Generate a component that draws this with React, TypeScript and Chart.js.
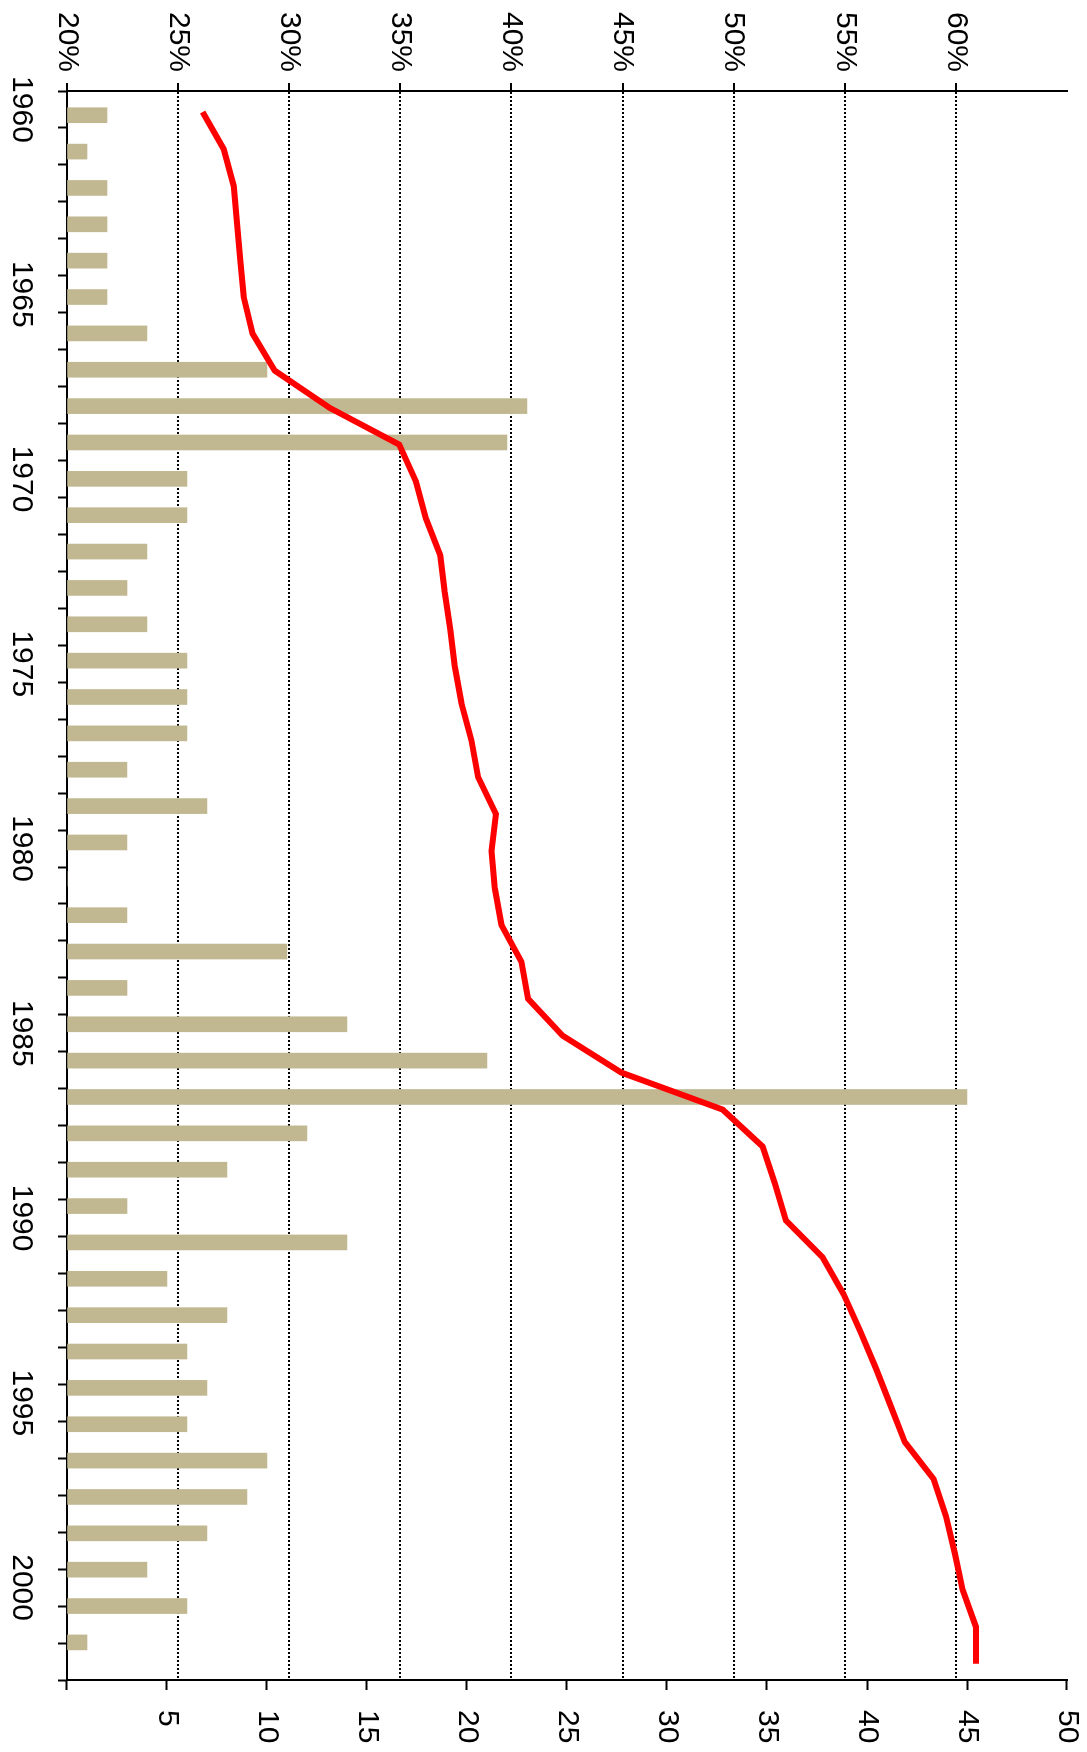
import { useEffect, useRef } from 'react';
import { Chart, registerables } from 'chart.js';

Chart.register(...registerables);

// Years on the category axis (1960–2002)
const YEARS = [
  1960, 1961, 1962, 1963, 1964, 1965, 1966, 1967, 1968, 1969,
  1970, 1971, 1972, 1973, 1974, 1975, 1976, 1977, 1978, 1979,
  1980, 1981, 1982, 1983, 1984, 1985, 1986, 1987, 1988, 1989,
  1990, 1991, 1992, 1993, 1994, 1995, 1996, 1997, 1998, 1999,
  2000, 2001, 2002,
];

// Bar series: yearly counts (right axis, 0–50)
const COUNTS = [
  2, 1, 2, 2, 2, 2, 4, 10, 23, 22,
  6, 6, 4, 3, 4, 6, 6, 6, 3, 7,
  3, 0, 3, 11, 3, 14, 21, 45, 12, 8,
  3, 14, 5, 8, 6, 7, 6, 10, 9, 7,
  4, 6, 1,
];

// Line series: share in percent (left axis, 20%–65%)
const SHARE = [
  26.1, 27.05, 27.5, 27.65, 27.8, 27.95, 28.35, 29.35, 31.8, 34.95,
  35.7, 36.15, 36.8, 37.0, 37.25, 37.45, 37.75, 38.2, 38.5, 39.3,
  39.1, 39.25, 39.55, 40.45, 40.75, 42.3, 44.95, 49.5, 51.3, 51.85,
  52.35, 54.0, 54.95, 55.7, 56.4, 57.05, 57.7, 59.0, 59.55, 59.95,
  60.3, 60.9, 60.9,
];

// Axis ranges / tick settings
const PCT_MIN = 20;
const PCT_MAX = 65;
const PCT_STEP = 5;
const COUNT_MIN = 0;
const COUNT_MAX = 50;
const COUNT_STEP = 5;
const YEAR_LABEL_EVERY = 5;
// in the original, bars and line each sit on their own (invisible) year scale
const BAR_AXIS_MIN = 1959.54;
const BAR_AXIS_MAX = 2003.24;
const LINE_AXIS_MIN = 1959.43;
const LINE_AXIS_MAX = 2002.44;

const W = 1752;
const H = 1087;
const FONT = { family: '"Liberation Sans", Arial, Helvetica, sans-serif', size: 30 };
const CLEAR = 'rgba(0,0,0,0)';

const noPad = (s: any) => {
  s.paddingTop = 0;
  s.paddingBottom = 0;
  s.paddingLeft = 0;
  s.paddingRight = 0;
};

const hiddenYearScale = (min: number, max: number) => ({
  type: 'linear',
  position: 'bottom',
  display: true,
  offset: false,
  min,
  max,
  ticks: { display: false },
  grid: { display: false, drawTicks: false },
  border: { display: false },
  afterFit: (s: any) => {
    noPad(s);
    s.height = 0;
  },
});

export default function App() {
  const ref = useRef<HTMLCanvasElement | null>(null);

  useEffect(() => {
    if (!ref.current) return;
    const chart = new Chart(ref.current, {
      type: 'bar',
      data: {
        labels: YEARS.map(String),
        datasets: [
          {
            type: 'line',
            data: YEARS.map((y, i) => ({ x: y, y: SHARE[i] })),
            xAxisID: 'xl',
            yAxisID: 'yPct',
            borderColor: '#ff0000',
            borderWidth: 6,
            pointRadius: 0,
            tension: 0,
            fill: false,
            borderJoinStyle: 'miter',
            borderCapStyle: 'butt',
            order: 1,
          } as any,
          {
            type: 'bar',
            data: YEARS.map((y, i) => ({ x: y, y: COUNTS[i] })),
            xAxisID: 'xb',
            yAxisID: 'yCount',
            backgroundColor: '#c1b891',
            borderWidth: 0,
            barThickness: 15,
            order: 2,
          } as any,
        ],
      },
      options: {
        animation: false,
        responsive: false,
        devicePixelRatio: 1,
        layout: { padding: { top: 20, left: 0, right: 0, bottom: 0 } },
        plugins: { legend: { display: false }, tooltip: { enabled: false } },
        scales: {
          x: {
            type: 'category',
            position: 'bottom',
            offset: true,
            grid: {
              offset: true,
              drawOnChartArea: false,
              drawTicks: true,
              tickLength: 9,
              tickWidth: 2,
              tickColor: '#000',
            },
            border: { display: true, color: '#000', width: 2 },
            ticks: {
              autoSkip: false,
              maxRotation: 0,
              minRotation: 0,
              padding: 19,
              color: '#000',
              font: FONT,
              callback: (_v: any, i: number) =>
                YEARS[i] % YEAR_LABEL_EVERY === 0 ? String(YEARS[i]) : '',
            },
            afterFit: (s: any) => {
              noPad(s);
              s.height = 67;
            },
          },
          xb: hiddenYearScale(BAR_AXIS_MIN, BAR_AXIS_MAX),
          xl: hiddenYearScale(LINE_AXIS_MIN, LINE_AXIS_MAX),
          yPct: {
            type: 'linear',
            position: 'left',
            min: PCT_MIN,
            max: PCT_MAX,
            z: 1,
            ticks: {
              stepSize: PCT_STEP,
              padding: 11,
              color: '#000',
              font: FONT,
              callback: (v: any) => (v === PCT_MAX ? '' : v + '%'),
            },
            grid: {
              color: (c: any) =>
                c.tick && (c.tick.value === PCT_MIN || c.tick.value === PCT_MAX) ? CLEAR : '#000',
              lineWidth: 2,
              tickLength: 8,
              tickWidth: 2,
              tickColor: (c: any) => (c.tick && c.tick.value === PCT_MAX ? CLEAR : '#000'),
            },
            border: { display: true, color: '#000', width: 2, dash: [2, 2] },
            afterFit: (s: any) => {
              noPad(s);
              s.width = 91;
            },
          },
          yCount: {
            type: 'linear',
            position: 'right',
            min: COUNT_MIN,
            max: COUNT_MAX,
            ticks: {
              stepSize: COUNT_STEP,
              padding: 20,
              color: '#000',
              font: FONT,
              callback: (v: any) => (v === COUNT_MIN ? '' : String(v)),
            },
            grid: {
              drawOnChartArea: false,
              tickLength: 10,
              tickWidth: 2,
              tickColor: '#000',
            },
            border: { display: true, color: '#000', width: 2 },
            afterFit: (s: any) => {
              noPad(s);
              s.width = 72;
            },
          },
        } as any,
      },
    });
    return () => chart.destroy();
  }, []);

  return (
    <div
      style={{
        position: 'absolute',
        left: 0,
        top: 0,
        width: H,
        height: W,
        overflow: 'hidden',
        background: '#fff',
      }}
    >
      <div
        style={{
          position: 'absolute',
          left: 0,
          top: 0,
          width: W,
          height: H,
          transformOrigin: '0 0',
          transform: `translate(${H}px, 0px) rotate(90deg)`,
        }}
      >
        <canvas ref={ref} width={W} height={H} style={{ display: 'block', width: W, height: H }} />
      </div>
    </div>
  );
}
